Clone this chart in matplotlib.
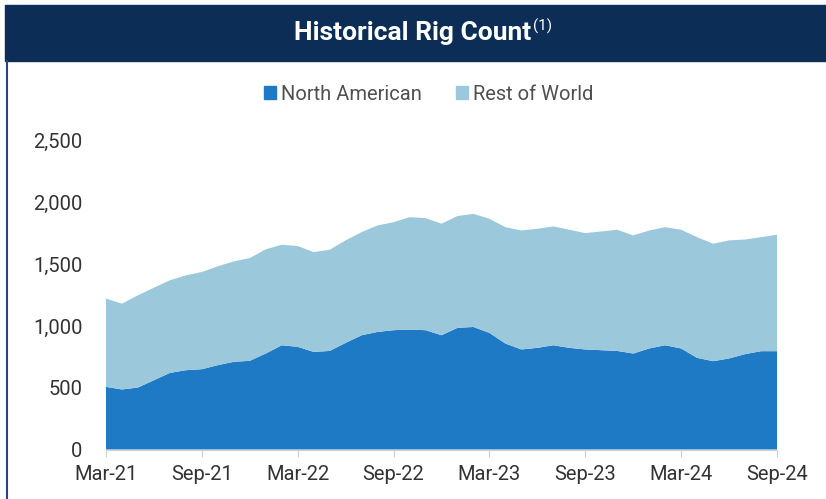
import numpy as np
import matplotlib
matplotlib.use("Agg")
import matplotlib.pyplot as plt
from matplotlib.patches import Rectangle, Patch
from matplotlib.lines import Line2D

plt.rcParams['font.family'] = ['Roboto', 'DejaVu Sans']

# Monthly rig counts, Mar-21 .. Sep-24
north_american = [507, 486, 502, 561, 620, 642, 650, 683, 710, 718,
                  777, 844, 831, 790, 798, 863, 925, 952, 966, 971,
                  966, 925, 985, 992, 944, 858, 810, 823, 844, 823,
                  810, 804, 798, 777, 818, 844, 818, 742, 715, 737,
                  772, 796, 796]
rest_of_world = [715, 695, 746, 749, 750, 768, 787, 800, 813, 832,
                 843, 814, 816, 808, 819, 830, 835, 862, 874, 910,
                 907, 903, 905, 916, 924, 942, 963, 964, 962, 956,
                 942, 961, 981, 956, 955, 956, 961, 977, 951, 956,
                 928, 923, 943]
tick_labels = ['Mar-21', 'Sep-21', 'Mar-22', 'Sep-22',
               'Mar-23', 'Sep-23', 'Mar-24', 'Sep-24']
series_names = ['North American', 'Rest of World']

navy = '#0c2d55'
blue = '#1f7ac6'
light_blue = '#9bc8da'
text_col = '#333333'

W, H = 826, 499
fig = plt.figure(figsize=(W / 100, H / 100), dpi=100)

# title bar
fig.patches.append(Rectangle((5 / W, 1 - 61 / H), 1 - 5 / W, 56 / H,
                             transform=fig.transFigure, color=navy, zorder=0))
fig.lines.append(Line2D([7 / W, 7 / W], [0, 1 - 61 / H],
                        transform=fig.transFigure, color='#2c4670', lw=1.5))

title = fig.text(0.5, 1 - 33 / H, 'Historical Rig Count', color='white',
                 fontsize=19, fontweight='bold', ha='center', va='center')
fig.canvas.draw()
bb = title.get_window_extent().transformed(fig.transFigure.inverted())
fig.text(bb.x1 + 1 / W, 1 - 26 / H, '(1)', color='white', fontsize=11,
         ha='left', va='center')

# chart
x = np.arange(len(north_american))
ax = fig.add_axes([106 / W, 1 - 449.5 / H, (777 - 106) / W, (449.5 - 140.7) / H])
ax.stackplot(x, north_american, rest_of_world, colors=[blue, light_blue],
             linewidth=0)
ax.set_xlim(0, len(x) - 1)
ax.set_ylim(0, 2500)
ax.set_yticks(range(0, 2501, 500))
ax.yaxis.set_major_formatter(matplotlib.ticker.StrMethodFormatter('{x:,.0f}'))
ax.set_xticks(x[::6])
ax.set_xticklabels(tick_labels)

for s in ['top', 'right', 'left']:
    ax.spines[s].set_visible(False)
ax.spines['bottom'].set_color('#d0d0d0')
ax.tick_params(axis='y', length=0, pad=17, labelsize=14.5, labelcolor=text_col)
ax.tick_params(axis='x', length=5, color='#d0d0d0', pad=6, labelsize=14.5,
               labelcolor=text_col)

handles = [Patch(color=blue), Patch(color=light_blue)]
fig.legend(handles, series_names, loc='center', bbox_to_anchor=(0.519, 1 - 94 / H),
           ncol=2, frameon=False, fontsize=14.5, labelcolor='#505050',
           handlelength=0.6, handleheight=0.6, handletextpad=0.25,
           columnspacing=1.7)

fig.savefig('out.png', dpi=100, facecolor='white')
